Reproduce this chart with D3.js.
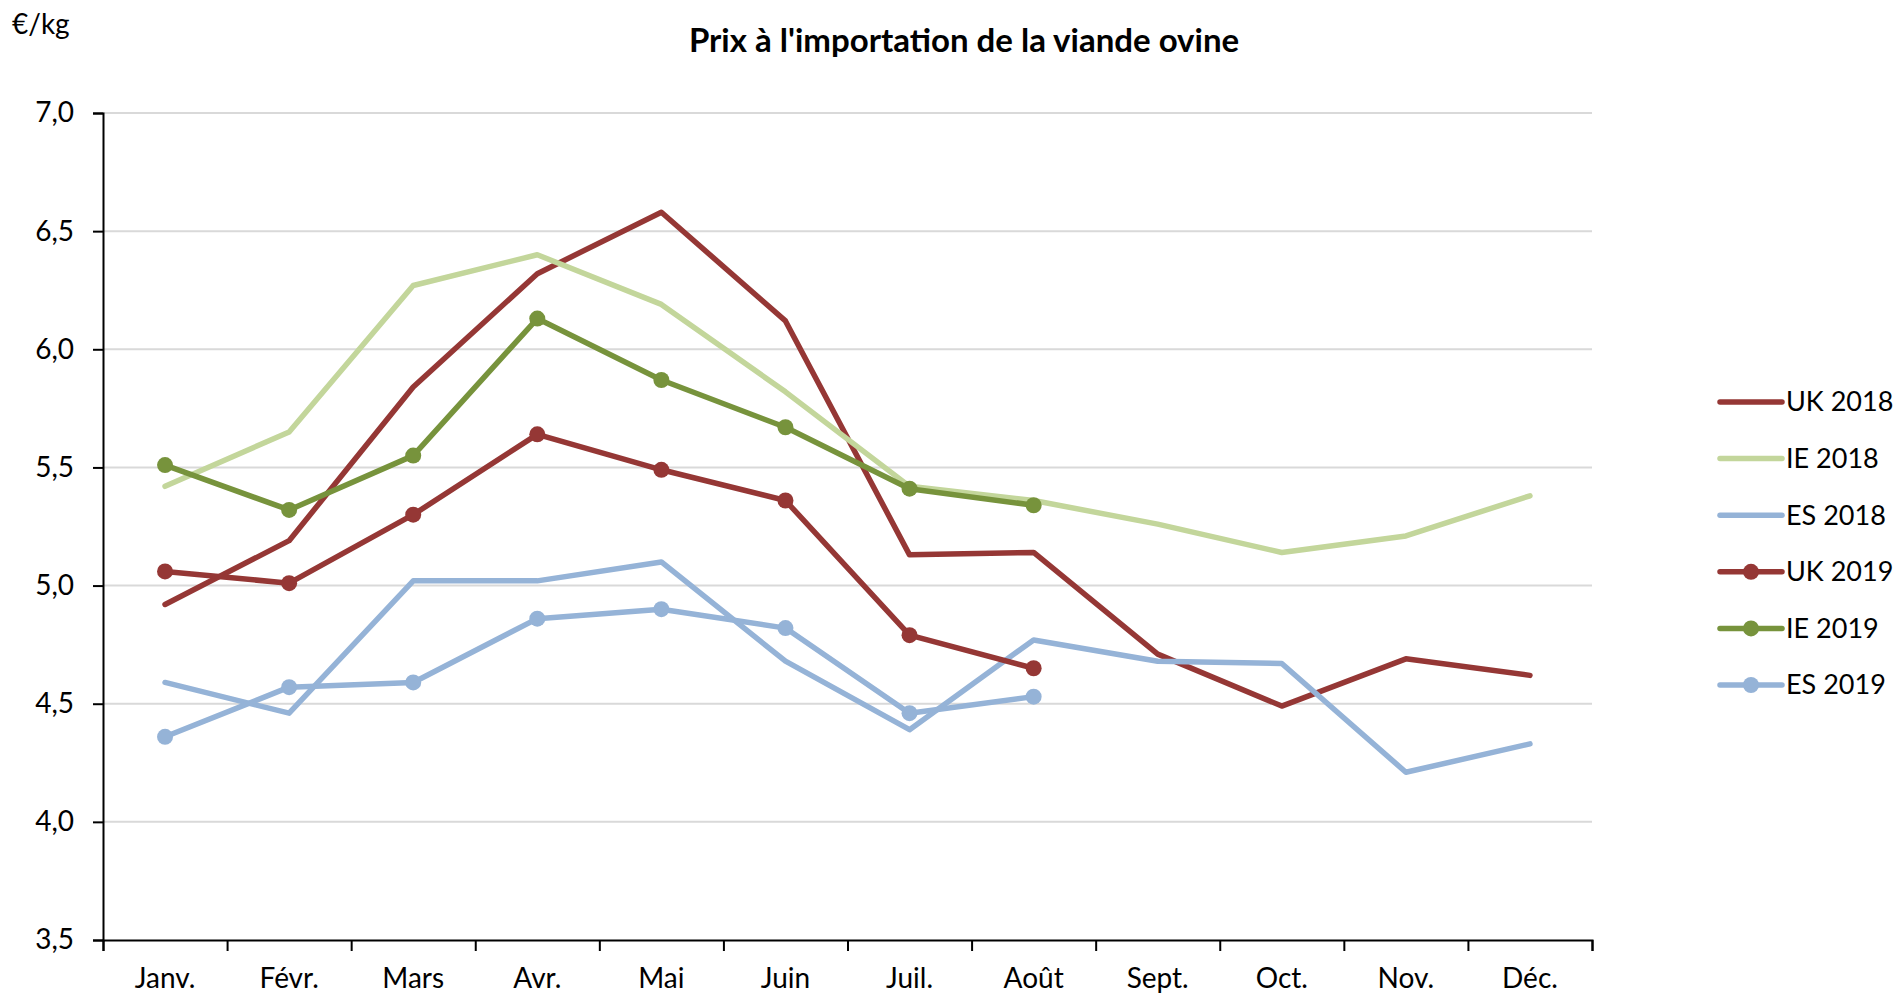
<!DOCTYPE html>
<html>
<head>
<meta charset="utf-8">
<script src="https://cdn.jsdelivr.net/npm/d3@7"></script>
<style>
  body { margin: 0; background: #fff; }
  text { font-family: Lato, "Open Sans", sans-serif; fill: #000; }
</style>
</head>
<body>
<svg id="chart"></svg>
<script>
let w = 1899;
let h = 998;

const months = ['Janv.', 'Févr.', 'Mars', 'Avr.', 'Mai', 'Juin', 'Juil.', 'Août', 'Sept.', 'Oct.', 'Nov.', 'Déc.'];
const yTicks = [3.5, 4.0, 4.5, 5.0, 5.5, 6.0, 6.5, 7.0];

const uk2018 = [4.92, 5.19, 5.84, 6.32, 6.58, 6.12, 5.13, 5.14, 4.71, 4.49, 4.69, 4.62];
const ie2018 = [5.42, 5.65, 6.27, 6.40, 6.19, 5.82, 5.42, 5.36, 5.26, 5.14, 5.21, 5.38];
const es2018 = [4.59, 4.46, 5.02, 5.02, 5.10, 4.68, 4.39, 4.77, 4.68, 4.67, 4.21, 4.33];
const uk2019 = [5.06, 5.01, 5.30, 5.64, 5.49, 5.36, 4.79, 4.65];
const ie2019 = [5.51, 5.32, 5.55, 6.13, 5.87, 5.67, 5.41, 5.34];
const es2019 = [4.36, 4.57, 4.59, 4.86, 4.90, 4.82, 4.46, 4.53];

const series = [
  { name: 'UK 2018', values: uk2018, color: '#953735', marker: false },
  { name: 'IE 2018', values: ie2018, color: '#c3d69b', marker: false },
  { name: 'ES 2018', values: es2018, color: '#95b3d7', marker: false },
  { name: 'UK 2019', values: uk2019, color: '#953735', marker: true },
  { name: 'IE 2019', values: ie2019, color: '#77933c', marker: true },
  { name: 'ES 2019', values: es2019, color: '#95b3d7', marker: true }
];

const plotLeft = 103, plotRight = 1592, plotTop = 113, plotBottom = 940;

const svg = d3.select('#chart')
  .attr('width', w)
  .attr('height', h)

const x = d3.scaleBand()
  .domain(months)
  .range([plotLeft, plotRight])

const xEdges = d3.scaleLinear()
  .domain([0, months.length])
  .range([plotLeft, plotRight])

const y = d3.scaleLinear()
  .domain([3.5, 7])
  .range([plotBottom, plotTop])

// gridlines
svg.append('g')
  .selectAll('line')
  .data(yTicks.slice(1))
  .enter()
  .append('line')
  .attr('x1', plotLeft)
  .attr('x2', plotRight)
  .attr('y1', d => y(d))
  .attr('y2', d => y(d))
  .attr('stroke', '#d9d9d9')
  .attr('stroke-width', 2)

// y axis
const yAxis = svg.append('g')
  .attr('transform', `translate(${plotLeft},0)`)
  .call(d3.axisLeft(y).tickValues(yTicks).tickSize(10).tickPadding(19)
    .tickFormat(d => d3.format('.1f')(d).replace('.', ',')))
yAxis.selectAll('text').style('font-size', '28px')
yAxis.selectAll('line, path').attr('stroke', '#000').attr('stroke-width', 2)

// x axis: ticks at category boundaries, labels centred in bands
const xTickAxis = svg.append('g')
  .attr('transform', `translate(0,${plotBottom})`)
  .call(d3.axisBottom(xEdges).tickValues(d3.range(months.length + 1)).tickSize(11).tickFormat(''))
xTickAxis.selectAll('line, path').attr('stroke', '#000').attr('stroke-width', 2)

const xLabelAxis = svg.append('g')
  .attr('transform', `translate(0,${plotBottom})`)
  .call(d3.axisBottom(x).tickSize(0).tickPadding(28))
xLabelAxis.select('.domain').remove()
xLabelAxis.selectAll('text').style('font-size', '28px')

const line = d3.line()
  .x((d, i) => x(months[i]) + x.bandwidth() / 2)
  .y(d => y(d))

const lines = svg.append('g')
series.forEach(s => {
  lines.append('path')
    .datum(s.values)
    .attr('d', line)
    .attr('fill', 'none')
    .attr('stroke', s.color)
    .attr('stroke-width', 5.5)
    .attr('stroke-linejoin', 'round')
    .attr('stroke-linecap', 'round')
  if (s.marker) {
    lines.selectAll(null)
      .data(s.values)
      .enter()
      .append('circle')
      .attr('cx', (d, i) => x(months[i]) + x.bandwidth() / 2)
      .attr('cy', d => y(d))
      .attr('r', 8)
      .attr('fill', s.color)
  }
})

// title and unit
svg.append('text')
  .attr('x', 964)
  .attr('y', 52)
  .attr('text-anchor', 'middle')
  .style('font-size', '33px')
  .style('font-weight', 'bold')
  .text("Prix à l'importation de la viande ovine")

svg.append('text')
  .attr('x', 12)
  .attr('y', 34)
  .style('font-size', '28px')
  .text('€/kg')

// legend
const legend = svg.append('g')
  .attr('transform', 'translate(1720,402)')

const item = legend.selectAll('g')
  .data(series)
  .enter()
  .append('g')
  .attr('transform', (d, i) => `translate(0,${i * 56.6})`)

item.append('line')
  .attr('x1', 0)
  .attr('x2', 62)
  .attr('stroke', d => d.color)
  .attr('stroke-width', 5.5)
  .attr('stroke-linecap', 'round')

item.filter(d => d.marker)
  .append('circle')
  .attr('cx', 31)
  .attr('r', 8)
  .attr('fill', d => d.color)

item.append('text')
  .attr('x', 66)
  .attr('dy', '0.35em')
  .style('font-size', '27px')
  .text(d => d.name)
</script>
</body>
</html>
